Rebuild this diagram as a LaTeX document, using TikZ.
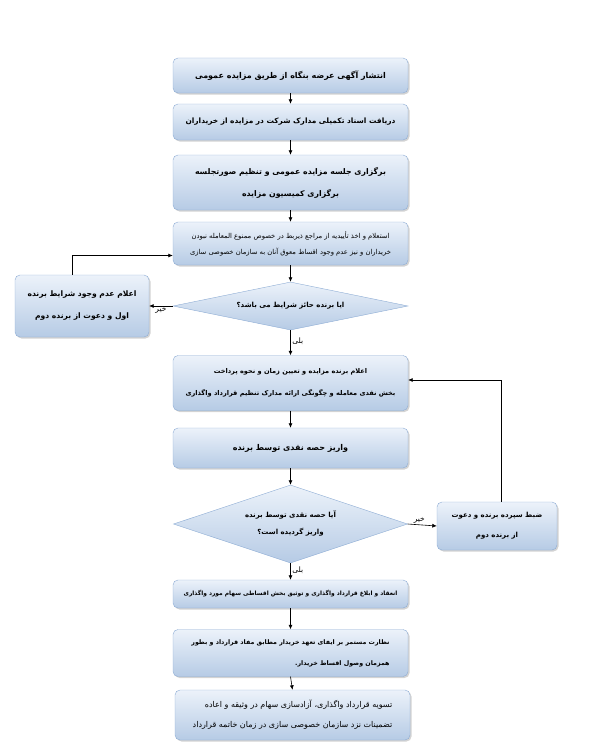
\documentclass[tikz,border=0pt]{standalone}
\usepackage{fontspec}
\usepackage{tikz}
\usetikzlibrary{arrows.meta, shapes.geometric, shadows, positioning, calc}
\TeXXeTstate=1
\newfontfamily\fafont[Script=Arabic]{DejaVu Sans}
\newcommand{\faline}[1]{\beginR #1\endR}
\newcommand{\fasize}[2]{\fontsize{#1}{#2}\selectfont}
\definecolor{BoxEdge}{RGB}{141,172,212}
\definecolor{BoxTop}{RGB}{236,242,250}
\definecolor{BoxBottom}{RGB}{182,203,229}

\begin{document}
\begin{tikzpicture}[x=1pt,y=-1pt,
    stepbox/.style={draw=BoxEdge,top color=BoxTop,bottom color=BoxBottom,
               rounded corners=5pt,font=\fafont\bfseries\fasize{7.5}{21},
               align=center,minimum width=235pt,inner sep=3pt,
               drop shadow={shadow xshift=1.5pt,shadow yshift=-1.5pt,opacity=0.35}},
    ask/.style={draw=BoxEdge,top color=BoxTop,bottom color=BoxBottom,diamond,
               font=\fafont\bfseries\fasize{7}{17},align=center,
               inner sep=1pt},
    lbl/.style={font=\fafont\fasize{7.5}{8},inner sep=1.5pt},
    arr/.style={-{Latex[length=4.5pt,width=4pt]},draw=black,line width=0.6pt}
  ]
    \useasboundingbox (0,0) rectangle (595,752);
    \node[stepbox,minimum height=35pt,font=\fafont\bfseries\fasize{8}{21}] (b1) at (290.5,75.5)
      {\faline{انتشار آگهی عرضه بنگاه از طریق مزایده عمومی}};
    \node[stepbox,minimum height=36pt,font=\fafont\bfseries\fasize{7.4}{21}] (b2) at (290.5,122)
      {\faline{دریافت اسناد تکمیلی مدارک شرکت در مزایده از خریداران}};
    \node[stepbox,minimum height=55pt,font=\fafont\bfseries\fasize{7.8}{22}] (b3) at (290.5,182.5)
      {\faline{برگزاری جلسه مزایده عمومی و تنظیم صورتجلسه}\\
       \faline{برگزاری کمیسیون مزایده}};
    \node[stepbox,minimum height=43pt,font=\fafont\fasize{6.8}{16}] (b4) at (290.5,243.5)
      {\faline{استعلام و اخذ تأییدیه از مراجع ذیربط در خصوص ممنوع المعامله نبودن}\\
       \faline{خریداران و نیز عدم وجود اقساط معوق آنان به سازمان خصوصی سازی}};
    \node[ask,aspect=4.9,minimum width=235pt,minimum height=48pt] (d1) at (290.5,306)
      {\faline{ایا برنده حائز شرایط می باشد؟}};
    \node[stepbox,minimum width=134pt,minimum height=62pt,font=\fafont\bfseries\fasize{7.6}{22}] (lb) at (82,306)
      {\faline{اعلام عدم وجود شرایط برنده}\\
       \faline{اول و دعوت از برنده دوم}};
    \node[stepbox,minimum height=55pt,font=\fafont\bfseries\fasize{6.6}{22}] (b5) at (290.5,383)
      {\faline{اعلام برنده مزایده و تعیین زمان و نحوه پرداخت}\\
       \faline{بخش نقدی معامله و چگونگی ارائه مدارک تنظیم قرارداد واگذاری}};
    \node[stepbox,minimum height=40pt,font=\fafont\bfseries\fasize{8}{21}] (b6) at (290.5,448)
      {\faline{واریز حصه نقدی توسط برنده}};
    \node[ask,aspect=3,minimum width=234pt,minimum height=78pt] (d2) at (290.5,524)
      {\faline{آیا حصه نقدی توسط برنده}\\
       \faline{واریز گردیده است؟}};
    \node[stepbox,minimum width=120pt,minimum height=48pt,font=\fafont\bfseries\fasize{7}{20}] (rb) at (497,526)
      {\faline{ضبط سپرده برنده و دعوت}\\
       \faline{از برنده دوم}};
    \node[stepbox,minimum height=28pt,font=\fafont\bfseries\fasize{5.9}{12}] (b7) at (290.5,594)
      {\faline{انعقاد و ابلاغ قرارداد واگذاری و توثیق بخش اقساطی سهام مورد واگذاری}};
    \node[stepbox,minimum height=47pt,align=right,font=\fafont\bfseries\fasize{6.3}{21}] (b8) at (290.5,653)
      {\faline{نظارت مستمر بر ایفای تعهد خریدار مطابق مفاد قرارداد و بطور}\\
       \faline{همزمان وصول اقساط خریدار.}};
    \node[stepbox,minimum height=50pt,align=right,font=\fafont\fasize{8}{20}] (b9) at (292.5,715)
      {\faline{تسویه قرارداد واگذاری، آزادسازی سهام در وثیقه و اعاده}\\
       \faline{تضمینات نزد سازمان خصوصی سازی در زمان خاتمه قرارداد}};
    \draw[arr] (b1.south)--(b2.north);
    \draw[arr] (b2.south)--(b3.north);
    \draw[arr] (b3.south)--(b4.north);
    \draw[arr] (b4.south)--(d1.north);
    \draw[arr] (d1.west)--(lb.east) node[lbl,pos=0.5,below] (no1) {\faline{خیر}};
    \coordinate (lbtop) at ([xshift=-10pt]lb.north);
    \coordinate (b4in) at ([yshift=-12pt]b4.west);
    \draw[arr] (lbtop) |- (b4in);
    \draw[arr] (d1.south)--(b5.north) node[lbl,pos=0.45,right] (yes1) {\faline{بلی}};
    \draw[arr] (b5.south)--(b6.north);
    \draw[arr] (b6.south)--(d2.north);
    \draw[arr] (d2.east)--(rb.west) node[lbl,pos=0.4,above] (no2) {\faline{خیر}};
    \coordinate (rbtop) at ([xshift=4pt]rb.north);
    \coordinate (b5in) at ([yshift=3pt]b5.east);
    \draw[arr] (rbtop) |- (b5in);
    \draw[arr] (d2.south)--(b7.north) node[lbl,pos=0.45,right] (yes2) {\faline{بلی}};
    \draw[arr] (b7.south)--(b8.north);
    \draw[arr] (b8.south)--(b9.north);
  \end{tikzpicture}
\end{document}
